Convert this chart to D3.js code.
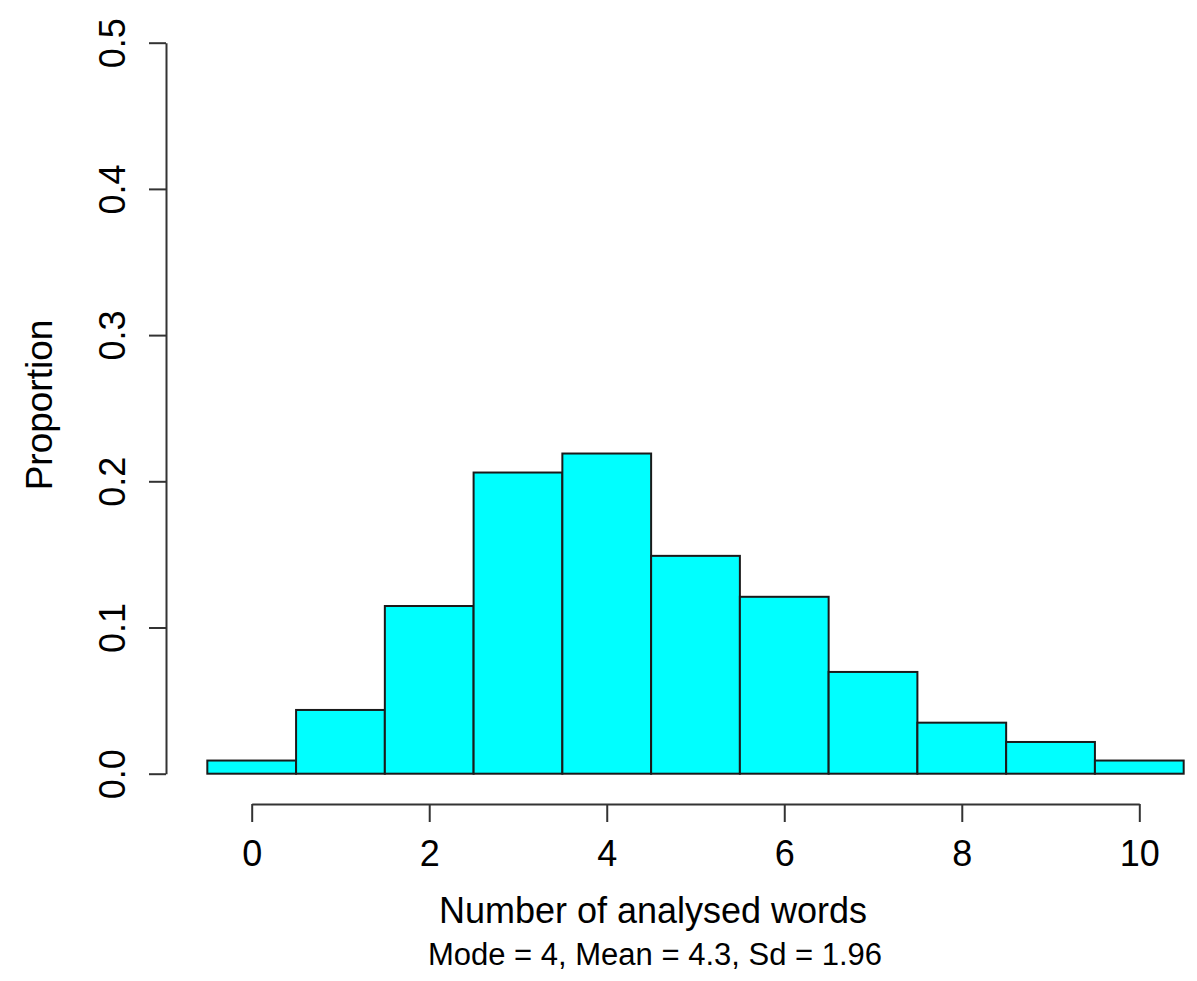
<!DOCTYPE html>
<html>
<head>
<meta charset="utf-8">
<script src="https://cdn.jsdelivr.net/npm/d3@7"></script>
<style>
  html, body { margin: 0; padding: 0; background: #fff; }
  svg { display: block; font-family: "Liberation Sans", Arial, sans-serif; }
  .bar { fill: #00ffff; stroke: #1a1a1a; stroke-width: 2; }
  .axis path, .axis line { stroke: #333; stroke-width: 2; }
  .axis text { fill: #000; font-size: 36px; }
</style>
</head>
<body>
<div id="chart"></div>
<script>
// Histogram data: number of analysed words -> proportion
const words = [0, 1, 2, 3, 4, 5, 6, 7, 8, 9, 10];
const proportion = [0.009, 0.0436, 0.1147, 0.206, 0.219, 0.149, 0.121, 0.0696, 0.0349, 0.0217, 0.009];
const xTicks = [0, 2, 4, 6, 8, 10];
const yTicks = [0, 0.1, 0.2, 0.3, 0.4, 0.5];

const xTitle = "Number of analysed words";
const subTitle = "Mode = 4, Mean = 4.3, Sd = 1.96";
const yTitle = "Proportion";

(function () {
  const width = 1197, height = 981;

  const svg = d3.select("#chart").append("svg")
    .attr("width", width)
    .attr("height", height);

  // scales, fitted to the original plot region
  const x = d3.scaleLinear().domain([0, 10]).range([251.7, 1139.3]);
  const y = d3.scaleLinear().domain([0, 0.5]).range([773.7, 42.7]);

  // bars (each bin is one unit wide, centred on the integer)
  svg.append("g")
    .selectAll("rect")
    .data(words.map((w, i) => ({ w, p: proportion[i] })))
    .join("rect")
    .attr("class", "bar")
    .attr("x", d => x(d.w - 0.5))
    .attr("width", d => x(d.w + 0.5) - x(d.w - 0.5))
    .attr("y", d => y(d.p))
    .attr("height", d => y(0) - y(d.p));

  // y axis (R style: rotated labels)
  const yAxis = svg.append("g")
    .attr("class", "axis")
    .attr("transform", "translate(166,0)")
    .call(d3.axisLeft(y).tickValues(yTicks).tickFormat(d3.format(".1f"))
      .tickSize(17).tickSizeOuter(0));
  yAxis.selectAll("text")
    .attr("x", null).attr("dy", null)
    .attr("text-anchor", "middle")
    .attr("transform", "translate(-41,0) rotate(-90)");

  // x axis, offset below the bars
  const xAxis = svg.append("g")
    .attr("class", "axis")
    .attr("transform", "translate(0,804)")
    .call(d3.axisBottom(x).tickValues(xTicks).tickFormat(d3.format("d"))
      .tickSize(18).tickSizeOuter(0));
  xAxis.selectAll("text")
    .attr("dy", null)
    .attr("y", 62);

  // titles
  svg.append("text")
    .attr("x", 653).attr("y", 923)
    .attr("text-anchor", "middle")
    .attr("font-size", 36)
    .text(xTitle);

  svg.append("text")
    .attr("x", 655).attr("y", 965)
    .attr("text-anchor", "middle")
    .attr("font-size", 31)
    .text(subTitle);

  svg.append("text")
    .attr("transform", "translate(52,405) rotate(-90)")
    .attr("text-anchor", "middle")
    .attr("font-size", 37)
    .text(yTitle);
})();
</script>
</body>
</html>
